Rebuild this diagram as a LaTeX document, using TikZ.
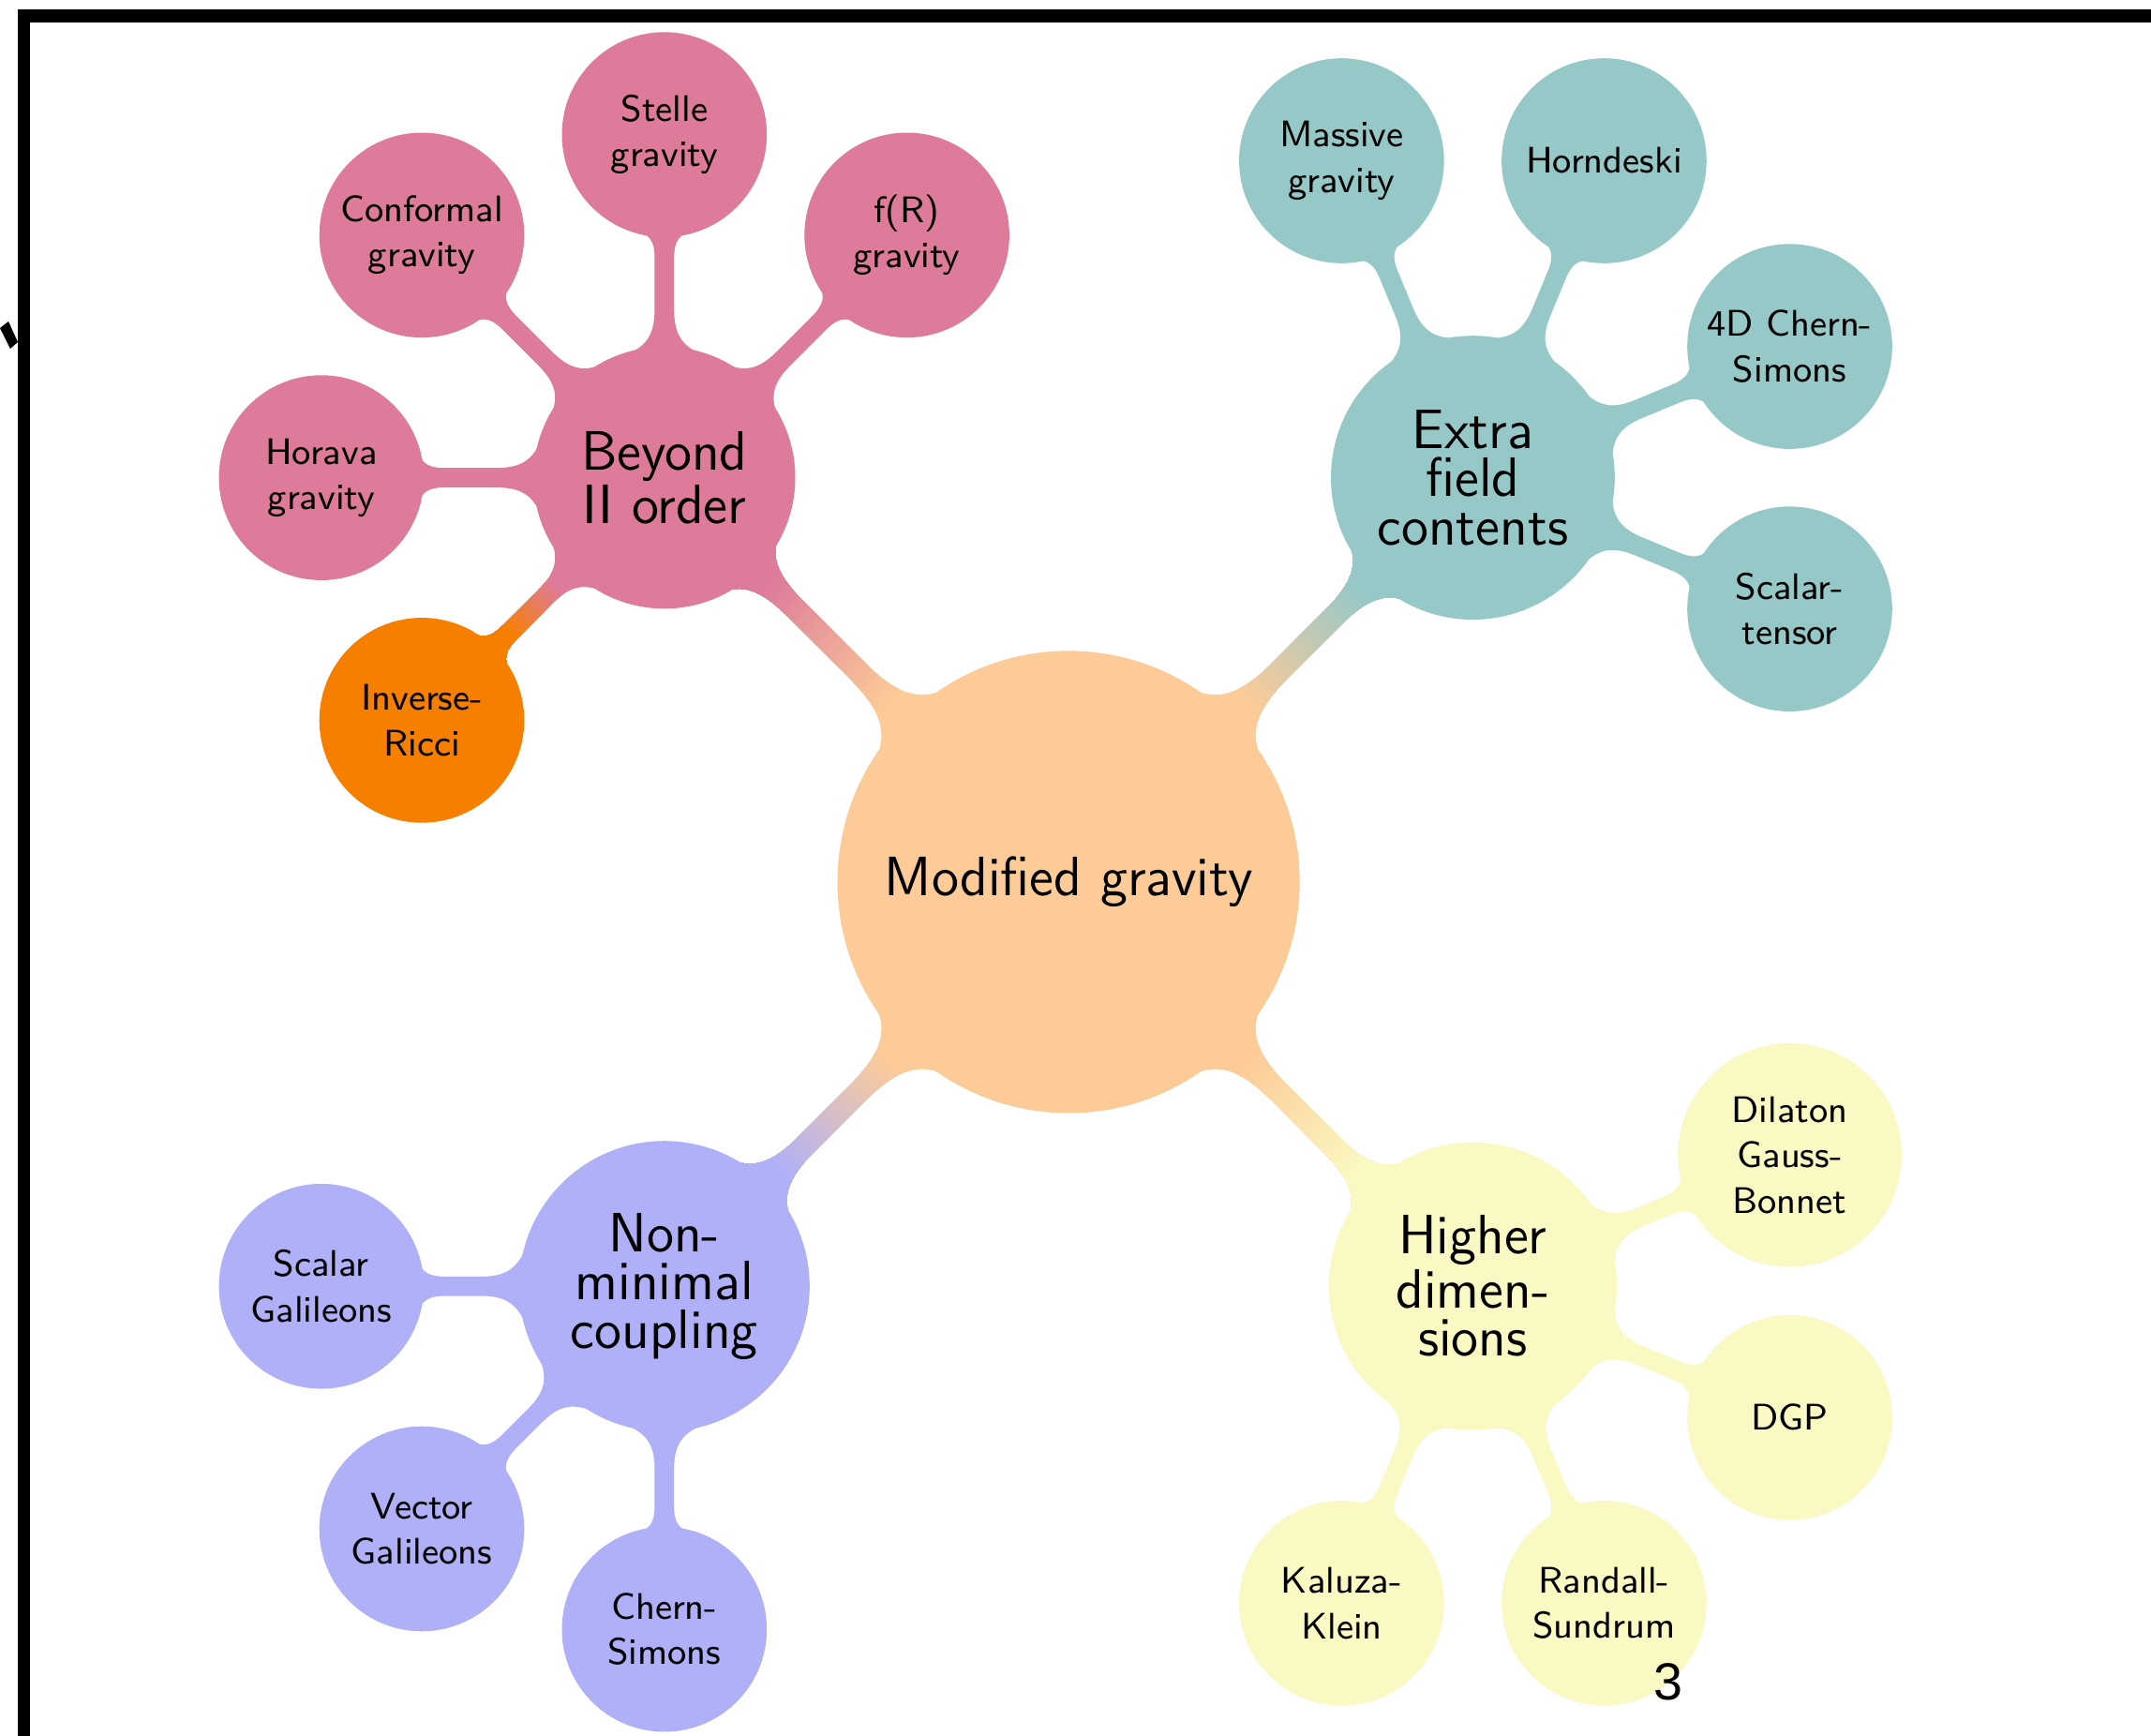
\documentclass[tikz,border=0pt]{standalone}
\usepackage{fontspec}
\newfontfamily\pagenumfont{Liberation Sans}
\usetikzlibrary{mindmap,calc,backgrounds}
\definecolor{cpeach}{HTML}{FCCB98}
\definecolor{cpink}{HTML}{DE7B9B}
\definecolor{corange}{HTML}{F77F00}
\definecolor{cteal}{HTML}{97C8C8}
\definecolor{clav}{HTML}{B0B0F9}
\definecolor{cyel}{HTML}{FBF9C3}

% connection bar geometry: angle on start circle, straight-start offset, angle on end circle, offset, half width
\newcommand{\mmsetparams}[5]{\def\mmphiA{#1}\def\mmeA{#2}\def\mmphiB{#3}\def\mmeB{#4}\def\mmw{#5}}
\newcommand{\mmcompute}[2]{%
  \pgfpointdiff{\pgfpointanchor{#1}{center}}{\pgfpointanchor{#1}{east}}\pgfgetlastxy{\mmtx}{\mmty}%
  \pgfmathsetmacro\mmra{\mmtx/28.45274}%
  \pgfpointdiff{\pgfpointanchor{#2}{center}}{\pgfpointanchor{#2}{east}}\pgfgetlastxy{\mmtx}{\mmty}%
  \pgfmathsetmacro\mmrb{\mmtx/28.45274}%
  \pgfpointdiff{\pgfpointanchor{#1}{center}}{\pgfpointanchor{#2}{center}}\pgfgetlastxy{\mmtx}{\mmty}%
  \pgfmathsetmacro\mmang{atan2(\mmty,\mmtx)}%
  \pgfmathsetmacro\mmd{veclen(\mmtx,\mmty)/28.45274}%
  \pgfmathsetmacro\PAx{\mmra*cos(\mmphiA)}%
  \pgfmathsetmacro\PAy{\mmra*sin(\mmphiA)}%
  \pgfmathsetmacro\kA{0.75*(\PAy-\mmw)}%
  \pgfmathsetmacro\PAcx{\PAx+\kA*sin(\mmphiA)}%
  \pgfmathsetmacro\PAcy{\PAy-\kA*cos(\mmphiA)}%
  \pgfmathsetmacro\SAx{\mmra+\mmeA}%
  \pgfmathsetmacro\SAcx{\SAx-0.6*(\SAx-\PAx)}%
  \pgfmathsetmacro\PBx{\mmd-\mmrb*cos(\mmphiB)}%
  \pgfmathsetmacro\PBy{\mmrb*sin(\mmphiB)}%
  \pgfmathsetmacro\kB{0.75*(\PBy-\mmw)}%
  \pgfmathsetmacro\PBcx{\PBx-\kB*sin(\mmphiB)}%
  \pgfmathsetmacro\PBcy{\PBy-\kB*cos(\mmphiB)}%
  \pgfmathsetmacro\SBx{\mmd-\mmrb-\mmeB}%
  \pgfmathsetmacro\SBcx{\SBx+0.6*(\PBx-\SBx)}%
  \def\mmpath{(#1.center) -- (\PAx,\PAy) .. controls (\PAcx,\PAcy) and (\SAcx,\mmw) .. (\SAx,\mmw)
    -- (\SBx,\mmw) .. controls (\SBcx,\mmw) and (\PBcx,\PBcy) .. (\PBx,\PBy) -- (#2.center)
    -- (\PBx,-\PBy) .. controls (\PBcx,-\PBcy) and (\SBcx,-\mmw) .. (\SBx,-\mmw)
    -- (\SAx,-\mmw) .. controls (\SAcx,-\mmw) and (\PAcx,-\PAcy) .. (\PAx,-\PAy) -- cycle}%
}
\newcommand{\mmbar}[3]{% a, b, colour
  \mmcompute{#1}{#2}%
  \begin{scope}[shift={(#1.center)}, rotate=\mmang]
    \fill[#3] \mmpath;
  \end{scope}
}
\newcommand{\mmbargrad}[4]{% a, b, colour at a, colour at b
  \mmcompute{#1}{#2}%
  \begin{scope}[shift={(#1.center)}, rotate=\mmang]
    \clip \mmpath;
    \fill[#3] (-1,-3) -- (\mmd+1,-3) -- (\mmd+1,3) -- (-1,3) -- cycle;
    \foreach \i in {1,...,40} {
      \pgfmathsetmacro\xs{\mmra+0.2+(\mmd-\mmra-\mmrb-0.4)*\i/40}
      \pgfmathtruncatemacro\pc{100*\i/40}
      \fill[#4!\pc!#3] (\xs,-3) -- (\mmd+1,-3) -- (\mmd+1,3) -- (\xs,3) -- cycle;
    }
  \end{scope}
}

\begin{document}
\begin{tikzpicture}[mindmap,
  rootc/.style={concept, concept color=cpeach, fill=cpeach, minimum size=4cm, text width=3.5cm, inner sep=1pt, align=center, text=black, font=\sffamily\fontsize{13.8}{15}\selectfont},
  lvlone/.style={concept, minimum size=2cm, text width=1.8cm, inner sep=3pt, align=center, text=black, font=\sffamily\fontsize{13.8}{12}\selectfont},
  lvltwo/.style={concept, minimum size=1.75cm, text width=1.5cm, inner sep=1pt, align=center, text=black, font=\sffamily\fontsize{9.2}{11.3}\selectfont},
  borderbar/.style={fill=black},
  pagenum/.style={font=\pagenumfont\fontsize{13}{15}\selectfont, text=black, inner sep=0pt}
]
\useasboundingbox (-9.346,-7.467) rectangle (9.467,7.713);

% frame
\fill[borderbar] (-9.190,7.516) rectangle (9.467,7.631);
\fill[borderbar] (-9.190,-7.467) rectangle (-9.084,7.631);
\fill[borderbar] (-9.346,4.844) -- (-9.272,4.902) -- (-9.190,4.721) -- (-9.256,4.664) -- cycle;

% concepts
\node[rootc] (root) at (0,0) {Modified gravity};

\node[lvlone, concept color=cpink, fill=cpink] (beyond) at (135:5) {Beyond\\II order};
\node[lvlone, concept color=cteal, fill=cteal] (extra) at (45:5) {Extra\\field\\contents};
\node[lvlone, concept color=clav, fill=clav] (nonmin) at (225:5) {Non-\\minimal\\coupling};
\node[lvlone, concept color=cyel, fill=cyel] (higher) at (315:5) {Higher\\dimen-\\sions};

\node[lvltwo, concept color=cpink, fill=cpink] (horava) at ($(beyond)+(180:3)$) {Horava\\gravity};
\node[lvltwo, concept color=cpink, fill=cpink] (conformal) at ($(beyond)+(135:3)$) {Conformal\\gravity};
\node[lvltwo, concept color=cpink, fill=cpink] (stelle) at ($(beyond)+(90:3)$) {Stelle\\gravity};
\node[lvltwo, concept color=cpink, fill=cpink] (fR) at ($(beyond)+(45:3)$) {f(R)\\gravity};
\node[lvltwo, concept color=corange, fill=corange] (inverse) at ($(beyond)+(225:3)$) {Inverse-\\Ricci};

\node[lvltwo, concept color=cteal, fill=cteal] (massive) at ($(extra)+(112.5:3)$) {Massive\\gravity};
\node[lvltwo, concept color=cteal, fill=cteal] (horndeski) at ($(extra)+(67.5:3)$) {Horndeski};
\node[lvltwo, concept color=cteal, fill=cteal] (cs4d) at ($(extra)+(22.5:3)$) {4D Chern-\\Simons};
\node[lvltwo, concept color=cteal, fill=cteal] (scalartensor) at ($(extra)+(-22.5:3)$) {Scalar-\\tensor};

\node[lvltwo, concept color=clav, fill=clav] (galileons) at ($(nonmin)+(180:3)$) {Scalar\\Galileons};
\node[lvltwo, concept color=clav, fill=clav] (vector) at ($(nonmin)+(225:3)$) {Vector\\Galileons};
\node[lvltwo, concept color=clav, fill=clav] (chernsimons) at ($(nonmin)+(270:3)$) {Chern-\\Simons};

\node[lvltwo, concept color=cyel, fill=cyel] (dilaton) at ($(higher)+(22.5:3)$) {Dilaton\\Gauss-\\Bonnet};
\node[lvltwo, concept color=cyel, fill=cyel] (dgp) at ($(higher)+(-22.5:3)$) {DGP};
\node[lvltwo, concept color=cyel, fill=cyel] (randall) at ($(higher)+(-67.5:3)$) {Randall-\\Sundrum};
\node[lvltwo, concept color=cyel, fill=cyel] (kaluza) at ($(higher)+(-112.5:3)$) {Kaluza-\\Klein};

\node[pagenum] (pnum) at (5.244,-6.992) {3};

% connections
\begin{pgfonlayer}{background}
\fill[white] (-9.346,-7.467) rectangle (9.467,7.713);
\mmsetparams{14}{0.62}{19}{0.5}{0.095}
\mmbargrad{root}{beyond}{cpeach}{cpink}
\mmbargrad{root}{extra}{cpeach}{cteal}
\mmbargrad{root}{nonmin}{cpeach}{clav}
\mmbargrad{root}{higher}{cpeach}{cyel}

\mmsetparams{20}{0.35}{16}{0.2}{0.085}
\mmbar{beyond}{horava}{cpink}
\mmbar{beyond}{conformal}{cpink}
\mmbar{beyond}{stelle}{cpink}
\mmbar{beyond}{fR}{cpink}
\mmbargrad{beyond}{inverse}{cpink}{corange}

\mmbar{extra}{massive}{cteal}
\mmbar{extra}{horndeski}{cteal}
\mmbar{extra}{cs4d}{cteal}
\mmbar{extra}{scalartensor}{cteal}

\mmbar{nonmin}{galileons}{clav}
\mmbar{nonmin}{vector}{clav}
\mmbar{nonmin}{chernsimons}{clav}

\mmbar{higher}{dilaton}{cyel}
\mmbar{higher}{dgp}{cyel}
\mmbar{higher}{randall}{cyel}
\mmbar{higher}{kaluza}{cyel}
\end{pgfonlayer}
\end{tikzpicture}
\end{document}
